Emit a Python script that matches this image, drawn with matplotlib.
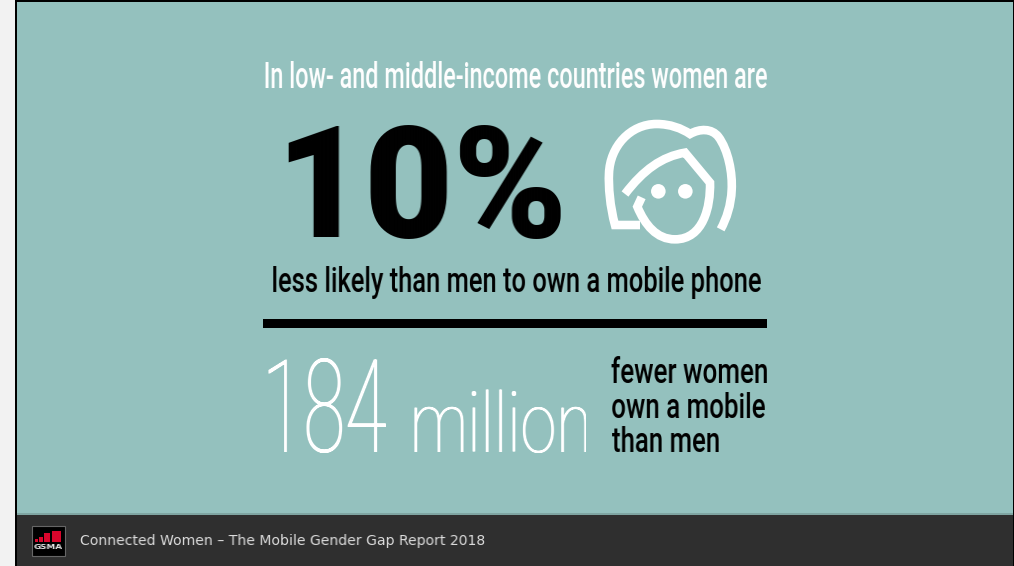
import math

import numpy as np
import matplotlib
matplotlib.use("Agg")
import matplotlib.pyplot as plt
from matplotlib.colors import to_rgb
from matplotlib.font_manager import FontProperties
from matplotlib.patches import Rectangle, PathPatch, Circle
from matplotlib.path import Path
from matplotlib.text import Text
from matplotlib.textpath import TextPath
from matplotlib.transforms import Bbox

W, H = 1014, 566
TEAL = "#94c1be"
DARK = "#2f2f2f"

headline = "In low- and middle-income countries women are"
share_label = "10%"
comparison = "less likely than men to own a mobile phone"
gap_number = "184"
gap_unit = "million"
gap_note = ["fewer women", "own a mobile", "than men"]
footer = "Connected Women \u2013 The Mobile Gender Gap Report 2018"
brand = "GSMA"

fig = plt.figure(figsize=(W / 100, H / 100), dpi=100, facecolor="#f2f2f2")
ax = fig.add_axes([0, 0, 1, 1])
ax.set_xlim(0, W)
ax.set_ylim(H, 0)
ax.axis("off")

# Slide frame, background and footer band
ax.add_patch(Rectangle((15, 0), W - 15, H, fc="black", ec="none"))
ax.add_patch(Rectangle((17, 2), W - 18, 512, fc=TEAL, ec="none"))
ax.add_patch(Rectangle((17, 514), W - 18, 52, fc=DARK, ec="none"))
ax.add_patch(Rectangle((17, 513), W - 18, 1.5, fc="#7fa5a2", ec="none"))

# GSMA badge
ax.add_patch(Rectangle((31.5, 525.5), 33, 30, fc="black", ec="#666666", lw=0.8))
for bx, by, bw, bh in [(35, 538.5, 3, 3), (39, 536.5, 4, 5), (44, 533, 6, 8.5), (51.5, 531, 9.5, 10.5)]:
    ax.add_patch(Rectangle((bx, by), bw, bh, fc="#d9062c", ec="none"))


class FittedText(Text):
    """Text whose glyphs are rescaled horizontally to span left..right.

    The glyphs are first laid out at their natural width, ending at natural_end
    when given, and then moved to their final span by the agg filter.
    """

    def __init__(self, left, right, baseline, text, size, color, family,
                 weight="normal", natural_end=None, thicken=0.0):
        prop = FontProperties(family=family, weight=weight, size=size)
        ink = TextPath((0, 0), text, size=size * 100 / 72, prop=prop).get_extents()
        self.span = (left, right)
        if natural_end is not None:
            draw_x = natural_end - ink.width - ink.x0
        elif left + ink.width < W - 2:
            draw_x = left - ink.x0
        else:
            draw_x = (W - ink.width) / 2 - ink.x0
        super().__init__(draw_x, baseline, text, color=color, fontproperties=prop,
                         ha="left", va="baseline")
        self.set_agg_filter(self._make_filter(left, right, color,
                                              math.floor(draw_x + ink.x0), thicken))

    @staticmethod
    def _make_filter(left, right, color, ink_start, thicken):
        rgb = to_rgb(color)
        new_w = int(round(right - left))

        def apply(img, dpi):
            h, w = img.shape[:2]
            edges = np.linspace(0, w, new_w + 1)
            cum = np.concatenate([np.zeros((h, 1)), np.cumsum(img[..., 3], axis=1)], axis=1)
            xi = np.arange(w + 1)
            out = np.zeros((h, new_w, 4))
            for row in range(h):
                c = np.interp(edges, xi, cum[row])
                out[row, :, 3] = np.diff(c) / (w / new_w)
            if thicken:
                alpha = out[..., 3]
                out[:, 1:, 3] = alpha[:, 1:] + thicken * alpha[:, :-1]
            out[..., 3] = np.clip(out[..., 3], 0, 1)
            out[..., :3] = rgb
            return out, int(round(left)) - ink_start, 0

        return apply

    def get_window_extent(self, renderer=None, dpi=None):
        box = super().get_window_extent(renderer, dpi)
        return Bbox([[self.span[0], box.y0], [self.span[1], box.y1]])


def label(*args, **kw):
    return ax.add_artist(FittedText(*args, **kw))


label(34, 62, 549, brand, 5, "#e6e6e6", ["DejaVu Sans"], "bold")
label(266, 768, 88, headline, 26, "white", ["Roboto"], "medium")
label(288, 561, 237, share_label, 112, "black", ["Roboto"], "black")
label(273, 761, 292, comparison, 25, "black", ["Roboto"], "medium")

ax.add_patch(Rectangle((263, 319), 504, 9, fc="black", ec="none"))

label(268, 386, 452, gap_number, 93, "white", ["Roboto"], "light",
      natural_end=340, thicken=1.0)
label(414, 586, 452, gap_unit, 60, "white", ["Roboto"], "light",
      natural_end=600, thicken=1.0)
for line, right, base in zip(gap_note, [768, 765, 719], [383, 418, 452]):
    label(612, right, base, line, 25, "black", ["Roboto"], "medium")

label(81, 486, 545, footer, 10.2, "#dcdcdc", ["DejaVu Sans"])


# Woman's face icon, outlined in white
def icon(points):
    return [(590 + x / 3, 110 + y / 3) for x, y in points]


C = Path.CURVE4
L = Path.LINETO
M = Path.MOVETO
hair = icon([(150, 345), (75, 345),
             (60, 290), (55, 230), (57, 190),
             (60, 110), (120, 42), (200, 42),
             (240, 42), (275, 55), (300, 72),
             (330, 55), (365, 55), (385, 80),
             (415, 120), (428, 190), (425, 240),
             (423, 285), (410, 325), (392, 358)])
hair_codes = [M, L] + [C] * 18
face = icon([(105, 252),
             (160, 180), (215, 140), (285, 128),
             (360, 218),
             (362, 290), (340, 388), (255, 388),
             (200, 388), (165, 345), (142, 290),
             (155, 262)])
face_codes = [M, C, C, C, L, C, C, C, C, C, C, L]
for verts, codes in [(hair, hair_codes), (face, face_codes)]:
    ax.add_patch(PathPatch(Path(verts, codes), fc="none", ec="white", lw=6.2,
                           capstyle="butt", joinstyle="miter"))
for ex, ey in icon([(205, 244), (286, 244)]):
    ax.add_patch(Circle((ex, ey), 7.3, fc="white", ec="none"))

fig.savefig("out.png", dpi=100, facecolor=fig.get_facecolor())
